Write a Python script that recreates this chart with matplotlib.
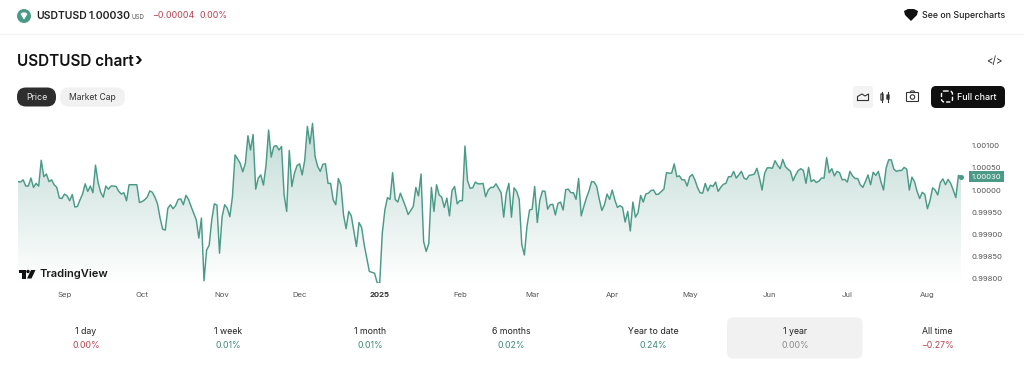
import numpy as np
import pandas as pd
import matplotlib
matplotlib.use("Agg")
import matplotlib.pyplot as plt
import matplotlib.dates as mdates
from matplotlib.colors import LinearSegmentedColormap
from matplotlib.patches import FancyBboxPatch, Circle, Polygon

plt.rcParams["font.family"] = ["Inter", "DejaVu Sans"]

# daily closes
prix_2024a = [
    1.00019, 1.00018, 1.00023, 1.00009, 1.00009, 1.00027, 1.00006, 1.00015, 1.00009, 1.00067,
    1.00030, 1.00036, 1.00019, 1.00023, 1.00012, 1.00006, 0.99982, 0.99981, 0.99991, 0.99987,
    0.99976, 0.99990, 0.99962, 0.99963, 0.99978, 0.99991, 1.00014, 0.99997, 1.00009, 0.99994,
    1.00056, 1.00017, 0.99995, 0.99984, 1.00009, 1.00002, 1.00009, 1.00009, 1.00008, 0.99997,
    0.99991, 0.99994, 0.99976, 1.00012, 1.00012, 1.00012, 1.00012, 0.99972, 0.99974, 0.99978,
    0.99984, 0.99998, 0.99995, 0.99984, 0.99969, 0.99937, 0.99912, 0.99910, 0.99959, 0.99967,
    0.99958, 0.99965, 0.99979, 0.99980, 0.99967, 0.99988, 0.99979, 0.99963, 0.99948, 0.99933,
    0.99892, 0.99937, 0.99796, 0.99865, 0.99876, 0.99933, 0.99969, 0.99966, 0.99858, 0.99940,
    0.99967, 0.99959, 0.99940, 0.99985, 1.00079, 1.00070, 1.00060, 1.00041, 1.00060, 1.00122,
    1.00090, 1.00125, 1.00002, 1.00027, 1.00034, 1.00011, 1.00056, 1.00135, 1.00074, 1.00098,
    1.00100, 1.00090, 1.00098, 0.99989, 0.99952, 1.00089, 1.00008, 1.00038, 1.00055, 1.00059,
    1.00034, 1.00068, 1.00143, 1.00104, 1.00150, 1.00075, 1.00053, 1.00042, 1.00058, 1.00059,
    1.00015, 1.00015, 0.99978, 0.99967, 1.00026,
]
prix_2024b = [
    1.00011, 0.99944, 0.99913, 0.99952, 0.99942, 0.99907, 0.99873, 0.99927, 0.99916, 0.99877,
    0.99847, 0.99817, 0.99815, 0.99813, 0.99792, 0.99790, 0.99903, 0.99955, 0.99983, 0.99979,
    1.00039, 0.99979, 0.99973, 0.99993, 0.99978, 0.99963, 0.99945, 0.99954, 0.99963, 1.00006,
    0.99987, 1.00036, 0.99884, 0.99862, 0.99880, 1.00006, 0.99952, 1.00012, 0.99989, 0.99984,
    0.99961, 0.99982, 0.99942, 0.99999, 1.00008, 0.99969, 0.99976, 0.99976, 1.00099, 1.00021,
    1.00004, 1.00005, 1.00018, 1.00014, 1.00014, 1.00015, 0.99985, 1.00000, 1.00006, 1.00006,
    1.00014, 1.00004, 0.99994, 0.99939, 0.99993, 1.00015, 0.99939, 1.00005, 0.99997, 0.99979,
    0.99877, 0.99854, 0.99918, 0.99955, 0.99957, 1.00008, 0.99927, 0.99978, 0.99998, 0.99997,
    0.99957, 0.99967, 0.99968, 0.99944, 0.99970, 0.99973, 0.99955, 1.00001, 1.00002, 0.99994,
    0.99994, 0.99979, 1.00026, 0.99942, 0.99963, 0.99982, 0.99998, 1.00019, 1.00018, 1.00008,
    0.99979, 0.99954, 0.99967, 0.99991, 0.99979, 1.00000, 0.99978, 0.99961, 0.99965, 0.99961,
    0.99928, 0.99952, 0.99908, 0.99973, 0.99939, 0.99949, 0.99988, 0.99973, 0.99991, 0.99993,
    0.99999, 1.00000, 0.99990, 0.99991, 0.99997, 1.00002, 1.00039, 1.00038, 1.00038, 1.00059,
    1.00030, 1.00032,
]
prix_2025 = [
    1.00023, 1.00023, 1.00009, 1.00030, 1.00035, 1.00023, 1.00006, 0.99994, 0.99993, 1.00015,
    0.99998, 1.00011, 1.00008, 1.00018, 0.99997, 1.00006, 1.00013, 1.00015, 1.00030, 1.00030,
    1.00042, 1.00027, 1.00034, 1.00042, 1.00027, 1.00024, 1.00033, 1.00034, 1.00036, 1.00049,
    1.00027, 1.00000, 1.00038, 1.00050, 1.00050, 1.00049, 1.00066, 1.00056, 1.00048, 1.00069,
    1.00053, 1.00047, 1.00042, 1.00021, 1.00034, 1.00044, 1.00048, 1.00044, 1.00015, 1.00051,
    1.00019, 1.00023, 1.00017, 1.00020, 1.00027, 1.00027, 1.00073, 1.00039, 1.00048, 1.00032,
    1.00042, 1.00039, 1.00023, 1.00024, 1.00018, 1.00042, 1.00032, 1.00026, 1.00026, 1.00012,
    1.00006, 1.00019, 1.00034, 1.00012, 1.00040, 1.00033, 1.00042, 1.00019, 1.00000, 1.00049,
    1.00068, 1.00068, 1.00047, 1.00042, 1.00044, 1.00044, 1.00051, 1.00047, 1.00000, 1.00029,
    1.00019, 0.99997, 0.99981, 0.99995, 0.99990, 0.99958, 0.99976, 1.00005, 1.00000, 0.99989,
    1.00017, 1.00025, 1.00012, 1.00024, 1.00015, 1.00000, 0.99983, 1.00033, 1.00030,
]
prix = prix_2024a + prix_2024b + prix_2025
dates = pd.date_range(end="2025-08-14", periods=len(prix), freq="D")

mois_dates = ["2024-09-01", "2024-10-01", "2024-11-01", "2024-12-01", "2025-01-01", "2025-02-01",
              "2025-03-01", "2025-04-01", "2025-05-01", "2025-06-01", "2025-07-01", "2025-08-01"]
mois_labels = ["Sep", "Oct", "Nov", "Dec", "2025", "Feb", "Mar", "Apr", "May", "Jun", "Jul", "Aug"]
prix_ticks = [0.998, 0.9985, 0.999, 0.9995, 1.0, 1.0005, 1.001]

periodes = ["1 day", "1 week", "1 month", "6 months", "Year to date", "1 year", "All time"]
perfs = ["0.00%", "0.01%", "0.01%", "0.02%", "0.24%", "0.00%", "\u22120.27%"]
perf_couleurs = ["#b5444f", "#3f8a78", "#3f8a78", "#3f8a78", "#3f8a78", "#8a8a8a", "#b5444f"]

VERT = "#4b9a87"
W, H = 1024, 381
fig = plt.figure(figsize=(W / 100, H / 100), dpi=100, facecolor="white")

# page chrome, in pixels
ui = fig.add_axes([0, 0, 1, 1])
ui.set_xlim(0, W)
ui.set_ylim(H, 0)
ui.axis("off")


def pill(x0, y0, x1, y1, color, r=6):
    ui.add_patch(FancyBboxPatch((x0 + r, y0 + r), x1 - x0 - 2 * r, y1 - y0 - 2 * r,
                                boxstyle="round,pad=%d,rounding_size=%d" % (r, r),
                                fc=color, ec="none"))


ui.plot([0, W], [34, 34], color="#f3f3f3", lw=1)

# header
ui.add_patch(Circle((24, 16), 7, fc=VERT, ec="none"))
ui.add_patch(Polygon([(20.5, 14), (22.5, 12.5), (25.5, 12.5), (27.5, 14), (24, 19.5)], fc="white", ec="none"))
ui.text(36, 16, "USDTUSD", fontsize=7.5, fontweight="semibold", color="#222222", va="center")
ui.text(89, 16, "1.00030", fontsize=7.6, fontweight="semibold", color="#222222", va="center")
ui.text(131, 17, "USD", fontsize=4.4, color="#555555", va="center")
ui.text(152, 16, "\u22120.00004", fontsize=6.4, color="#b5444f", va="center")
ui.text(199, 16, "0.00%", fontsize=6.4, color="#b5444f", va="center")
ui.add_patch(Polygon([(904, 11), (908, 9), (914, 9), (918, 11), (917, 15), (911, 21), (905, 15)], fc="#111111", ec="none"))
ui.text(922, 16, "See on Supercharts", fontsize=6.4, fontweight="medium", color="#222222", va="center")

ui.text(17, 61.5, "USDTUSD chart", fontsize=11, fontweight="semibold", color="#111111", va="center")
ui.text(134, 62, "\u203a", fontsize=13, fontweight="bold", color="#111111", va="center")
ui.text(994, 61, "</>", fontsize=7, color="#222222", va="center", ha="center")

pill(17, 87.5, 56, 106.5, "#2e2e2e", r=9)
ui.text(36.5, 97, "Price", fontsize=6.4, color="#e8e8e8", va="center", ha="center")
pill(60, 87.5, 125, 106.5, "#f1f1f1", r=9)
ui.text(92.5, 97, "Market Cap", fontsize=6.2, color="#333333", va="center", ha="center")

# chart type icons
pill(853, 86, 873, 108, "#f3f3f3", r=3)
ui.plot([857.5, 857.5, 862, 865, 868.5, 868.5, 857.5], [100.5, 96.5, 94, 96, 94, 100.5, 100.5], color="#333333", lw=0.8)
ui.plot([882, 882], [92, 102], color="#333333", lw=0.8)
ui.plot([888, 888], [92, 102], color="#333333", lw=0.8)
ui.add_patch(FancyBboxPatch((881, 94), 2, 6, boxstyle="round,pad=0.1", fc="white", ec="#333333", lw=0.8))
ui.add_patch(FancyBboxPatch((887, 95), 2, 4, boxstyle="round,pad=0.1", fc="#333333", ec="#333333", lw=0.8))
ui.add_patch(FancyBboxPatch((907, 93), 11, 8, boxstyle="round,pad=0.5", fc="white", ec="#333333", lw=0.8))
ui.plot([910, 911, 914, 915], [92.5, 91, 91, 92.5], color="#333333", lw=0.8)
ui.add_patch(Circle((912.5, 97), 2.2, fc="white", ec="#333333", lw=0.8))
pill(931, 86, 1005, 108, "#0f0f0f", r=5)
ui.add_patch(FancyBboxPatch((942, 91.5), 10, 10, boxstyle="round,pad=0.5,rounding_size=3", fc="none", ec="white", lw=1, ls=(0, (3, 1.5))))
ui.text(957, 97, "Full chart", fontsize=6.4, fontweight="medium", color="white", va="center")

# performance row
pill(727, 317.5, 862.5, 358.5, "#f1f1f1", r=6)
centres = [86, 228, 370, 511, 653, 795, 937]
for cx, p, v, c in zip(centres, periodes, perfs, perf_couleurs):
    ui.text(cx, 331.5, p, fontsize=6.3, color="#222222", ha="center", va="center")
    ui.text(cx, 345, v, fontsize=6.3, color=c, ha="center", va="center")

# the chart itself: axes span x 18-961, y 110-283 in pixels
ax = fig.add_axes([18 / W, 1 - 283 / H, (961 - 18) / W, (283 - 110) / H])
ax.patch.set_alpha(0)
for s in ax.spines.values():
    s.set_visible(False)
x = mdates.date2num(dates)
ax.set_xlim(x[0], x[-1])
ax.set_ylim(0.99791, 1.0018)

degrade = LinearSegmentedColormap.from_list("degrade", ["#c3dcd6", "#ffffff"])
grad = ax.imshow(np.linspace(0, 1, 256).reshape(-1, 1), cmap=degrade, aspect="auto",
                 extent=[x[0], x[-1], 0.99791, 1.0014], zorder=1)
zone = ax.fill_between(x, prix, 0.99791, color="none")
grad.set_clip_path(zone.get_paths()[0], transform=ax.transData)
ax.plot(x, prix, color=VERT, lw=1.05, zorder=2, solid_joinstyle="round")
ax.plot(x[-1], prix[-1], "o", color=VERT, ms=2.6, zorder=3, clip_on=False)

ax.set_xlim(x[0], x[-1])
ax.set_ylim(0.99791, 1.0018)
ax.set_xticks(mdates.date2num(pd.to_datetime(mois_dates)))
ax.set_xticklabels(mois_labels)
ax.set_yticks(prix_ticks)
ax.set_yticklabels(["%.5f" % p for p in prix_ticks])
ax.yaxis.tick_right()
ax.tick_params(axis="x", length=0, pad=6.5, labelsize=5.6, labelcolor="#555555")
ax.tick_params(axis="y", length=0, pad=7.5, labelsize=5.5, labelcolor="#555555")
ax.get_xticklabels()[4].set_fontweight("bold")
ax.get_xticklabels()[4].set_color("#333333")

# last price tag
ax.annotate("%.5f" % prix[-1], xy=(1, prix[-1]), xycoords=("axes fraction", "data"),
            xytext=(7.5, 0), textcoords="offset points", fontsize=5.5, color="white", va="center",
            bbox=dict(boxstyle="square,pad=0.35", fc=VERT, ec="none"), annotation_clip=False, zorder=5)

# TradingView watermark
ui.add_patch(Polygon([(18.5, 270), (26, 270), (26, 278.5), (22, 278.5), (22, 273), (18.5, 273)], fc="#111111", ec="none", zorder=6))
ui.add_patch(Circle((28, 271.5), 1.7, fc="#111111", ec="none", zorder=6))
ui.add_patch(Polygon([(31, 270), (35.5, 270), (31.5, 278.5), (27, 278.5)], fc="#111111", ec="none", zorder=6))
ui.text(39, 274, "TradingView", fontsize=8, fontweight="semibold", color="#1a1a1a", va="center", zorder=6)
ui.set_zorder(3)
ui.patch.set_alpha(0)

fig.savefig("out.png", dpi=100, facecolor="white")
